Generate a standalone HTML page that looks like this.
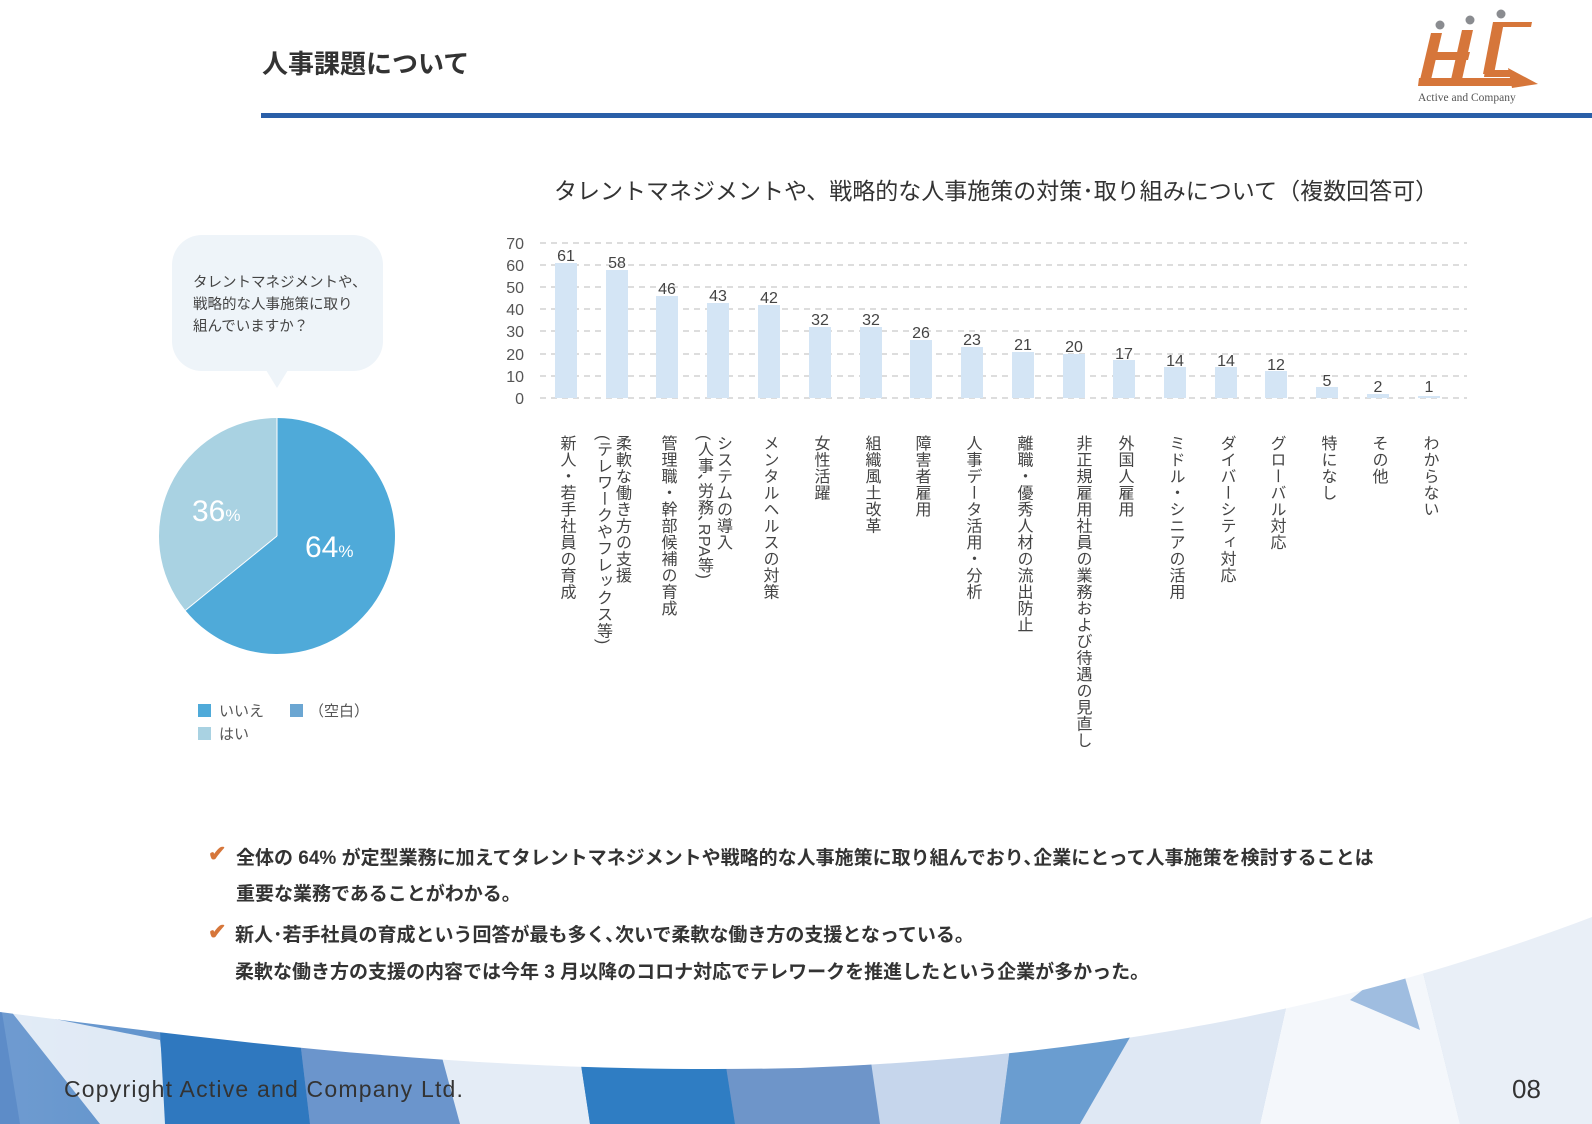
<!DOCTYPE html>
<html><head><meta charset="utf-8">
<style>
html,body{margin:0;padding:0;}
body{width:1592px;height:1124px;position:relative;overflow:hidden;background:#fff;font-family:"Liberation Sans","Noto Sans CJK JP",sans-serif;color:#333;}
.abs{position:absolute;white-space:nowrap;}
.vl{position:absolute;top:435px;writing-mode:vertical-rl;font-size:16px;letter-spacing:0.5px;line-height:19px;color:#444;transform:translateX(-50%);white-space:nowrap;}
.b{font-weight:bold;font-size:19px;color:#333;}
</style></head><body>
<svg class="abs" style="left:0;top:0" width="1592" height="1124">
  <defs>
    <linearGradient id="g1" x1="0" y1="0" x2="1" y2="0">
      <stop offset="0" stop-color="#6f9bd0"/><stop offset="0.4" stop-color="#3a80c3"/><stop offset="0.7" stop-color="#8fb0da"/><stop offset="1" stop-color="#e6edf7"/>
    </linearGradient>
  </defs>
  <rect x="0" y="900" width="1592" height="224" fill="url(#g1)"/>
  <polygon points="0,1000 20,1124 0,1124" fill="#5d8cc8"/>
  <polygon points="10,1010 160,1040 170,1124 100,1124" fill="#ffffff" opacity="0.8"/>
  <polygon points="160,1030 300,1040 310,1124 165,1124" fill="#2f78bf"/>
  <polygon points="300,1040 440,1050 460,1124 310,1124" fill="#6b95cc"/>
  <polygon points="440,1050 580,1058 590,1124 460,1124" fill="#e4ecf6"/>
  <polygon points="580,1058 725,1060 735,1124 590,1124" fill="#2f7dc3"/>
  <polygon points="725,1060 870,1055 880,1124 735,1124" fill="#6e95c9"/>
  <polygon points="870,1055 1010,1048 1000,1124 880,1124" fill="#c6d6ec"/>
  <polygon points="1010,1048 1140,1020 1080,1124 1000,1124" fill="#6a9dd0"/>
  <polygon points="1140,1020 1290,990 1260,1124 1080,1124" fill="#dfe8f4"/>
  <polygon points="1290,990 1420,960 1460,1124 1260,1124" fill="#f4f7fb"/>
  <polygon points="1420,960 1592,915 1592,1124 1460,1124" fill="#e9eff7"/>
  <polygon points="1350,1000 1400,960 1420,1030" fill="#9fbde0"/>
  <path d="M0,900 L1592,900 L1592,917 C1400,990 1150,1055 800,1068 C500,1075 250,1045 0,1012 Z" fill="#fff"/>
  <rect x="261" y="113" width="1331" height="5" fill="#2a5fa8"/>
  <!-- logo -->
  <circle cx="1440" cy="25" r="4.5" fill="#8a8c90"/>
  <circle cx="1470" cy="20" r="4.5" fill="#8a8c90"/>
  <circle cx="1501" cy="14" r="4.5" fill="#8a8c90"/>
  <g fill="#d6763a">
    <polygon points="1431,33 1442,33 1430,84 1419,84"/>
    <polygon points="1462,30 1473,30 1461,84 1450,84"/>
    <polygon points="1493,22 1504,22 1494,74 1483,74"/>
    <polygon points="1435,52 1470,52 1468,60 1433,60"/>
    <polygon points="1500,22 1532,22 1531,27 1500,27"/>
    <polygon points="1419,78 1514,78 1513,86 1418,86"/>
    <polygon points="1508,68 1538,84 1512,88"/>
    <polygon points="1485,70 1512,70 1511,77 1484,77"/>
  </g>
  <text x="1418" y="101" font-family="Liberation Serif,serif" font-size="11.5" fill="#555">Active and Company</text>
  <!-- bubble -->
  <rect x="172" y="235" width="211" height="136" rx="30" fill="#eef4f9"/>
  <polygon points="266,370 288,370 277,388" fill="#eef4f9"/>
  <!-- pie -->
  <path d="M277,536 L277,418 A118,118 0 1 1 185.4,610.4 Z" fill="#4faad9"/>
  <path d="M277,536 L185.4,610.4 A118,118 0 0 1 277,418 Z" fill="#a9d2e2"/>
  <line x1="277" y1="536" x2="277" y2="418" stroke="#fff" stroke-width="1"/>
  <line x1="277" y1="536" x2="185.4" y2="610.4" stroke="#fff" stroke-width="1"/>
  <text x="192" y="521" font-size="30" fill="#fff" font-family="Liberation Sans,sans-serif">36<tspan font-size="17">%</tspan></text>
  <text x="305" y="557" font-size="30" fill="#fff" font-family="Liberation Sans,sans-serif">64<tspan font-size="17">%</tspan></text>
  <rect x="198" y="704" width="13" height="13" fill="#4faad9"/>
  <rect x="290" y="704" width="13" height="13" fill="#6ba6d2"/>
  <rect x="198" y="727" width="13" height="13" fill="#a9d2e2"/>
  <g font-size="15" fill="#555" font-family="Liberation Sans,Noto Sans CJK JP,sans-serif">
    <text x="219" y="716">いいえ</text>
    <text x="309" y="716">（空白）</text>
    <text x="219" y="739">はい</text>
  </g>
  <!-- bar chart -->
  <g stroke="#bbb" stroke-width="1" stroke-dasharray="6,5">
    <line x1="540" y1="243" x2="1467" y2="243"/><line x1="540" y1="265" x2="1467" y2="265"/>
    <line x1="540" y1="287" x2="1467" y2="287"/><line x1="540" y1="309" x2="1467" y2="309"/>
    <line x1="540" y1="331" x2="1467" y2="331"/><line x1="540" y1="354" x2="1467" y2="354"/>
    <line x1="540" y1="376" x2="1467" y2="376"/><line x1="540" y1="398" x2="1467" y2="398"/>
  </g>
  <g font-size="16" fill="#555" text-anchor="end" font-family="Liberation Sans,sans-serif">
    <text x="524" y="249">70</text><text x="524" y="271">60</text><text x="524" y="293">50</text>
    <text x="524" y="315">40</text><text x="524" y="337">30</text><text x="524" y="360">20</text>
    <text x="524" y="382">10</text><text x="524" y="404">0</text>
  </g>
  <g fill="#d4e5f5">
    <rect x="555" y="263" width="22" height="135"/>
    <rect x="606" y="270" width="22" height="128"/>
    <rect x="656" y="296" width="22" height="102"/>
    <rect x="707" y="303" width="22" height="95"/>
    <rect x="758" y="305" width="22" height="93"/>
    <rect x="809" y="327" width="22" height="71"/>
    <rect x="860" y="327" width="22" height="71"/>
    <rect x="910" y="340" width="22" height="58"/>
    <rect x="961" y="347" width="22" height="51"/>
    <rect x="1012" y="352" width="22" height="46"/>
    <rect x="1063" y="354" width="22" height="44"/>
    <rect x="1113" y="360" width="22" height="38"/>
    <rect x="1164" y="367" width="22" height="31"/>
    <rect x="1215" y="367" width="22" height="31"/>
    <rect x="1265" y="371" width="22" height="27"/>
    <rect x="1316" y="387" width="22" height="11"/>
    <rect x="1367" y="394" width="22" height="4"/>
    <rect x="1418" y="396" width="22" height="2"/>
  </g>
  <g font-size="16" fill="#444" text-anchor="middle" font-family="Liberation Sans,sans-serif">
    <text x="566" y="261">61</text><text x="617" y="268">58</text><text x="667" y="294">46</text>
    <text x="718" y="301">43</text><text x="769" y="303">42</text><text x="820" y="325">32</text>
    <text x="871" y="325">32</text><text x="921" y="338">26</text><text x="972" y="345">23</text>
    <text x="1023" y="350">21</text><text x="1074" y="352">20</text><text x="1124" y="359">17</text>
    <text x="1175" y="366">14</text><text x="1226" y="366">14</text><text x="1276" y="370">12</text>
    <text x="1327" y="386">5</text><text x="1378" y="392">2</text><text x="1429" y="392">1</text>
  </g>
</svg>
<div class="abs" style="left:262px;top:44px;font-size:26px;font-weight:bold;color:#333;">人事課題について</div>
<div class="abs" style="left:554px;top:172px;font-size:23px;color:#333;">タレントマネジメントや、戦略的な人事施策の対策･取り組みについて（複数回答可）</div>
<div class="abs" style="left:193px;top:272px;font-size:14.5px;line-height:22px;color:#444;">タレントマネジメントや、<br>戦略的な人事施策に取り<br>組んでいますか？</div>

<div class="vl" style="left:566px">新人・若手社員の育成</div>
<div class="vl" style="left:612px">柔軟な働き方の支援<br>(テレワークやフレックス等)</div>
<div class="vl" style="left:667px">管理職・幹部候補の育成</div>
<div class="vl" style="left:713px">システムの導入<br>(人事､労務､RPA等)</div>
<div class="vl" style="left:769px">メンタルヘルスの対策</div>
<div class="vl" style="left:820px">女性活躍</div>
<div class="vl" style="left:871px">組織風土改革</div>
<div class="vl" style="left:921px">障害者雇用</div>
<div class="vl" style="left:972px">人事データ活用・分析</div>
<div class="vl" style="left:1023px">離職・優秀人材の流出防止</div>
<div class="vl" style="left:1082px">非正規雇用社員の業務および待遇の見直し</div>
<div class="vl" style="left:1124px">外国人雇用</div>
<div class="vl" style="left:1175px">ミドル・シニアの活用</div>
<div class="vl" style="left:1226px">ダイバーシティ対応</div>
<div class="vl" style="left:1276px">グローバル対応</div>
<div class="vl" style="left:1327px">特になし</div>
<div class="vl" style="left:1378px">その他</div>
<div class="vl" style="left:1429px">わからない</div>

<div class="abs" style="left:208px;top:841px;color:#d6763a;font-size:22px;font-weight:bold;">✔</div>
<div class="abs b" style="left:236px;top:843px;">全体の 64% が定型業務に加えてタレントマネジメントや戦略的な人事施策に取り組んでおり､企業にとって人事施策を検討することは</div>
<div class="abs b" style="left:236px;top:879px;">重要な業務であることがわかる。</div>
<div class="abs" style="left:208px;top:919px;color:#d6763a;font-size:22px;font-weight:bold;">✔</div>
<div class="abs b" style="left:235px;top:920px;">新人･若手社員の育成という回答が最も多く､次いで柔軟な働き方の支援となっている。</div>
<div class="abs b" style="left:235px;top:957px;">柔軟な働き方の支援の内容では今年 3 月以降のコロナ対応でテレワークを推進したという企業が多かった。</div>

<div class="abs" style="left:64px;top:1076px;font-size:23px;letter-spacing:1.2px;color:#333;">Copyright Active and Company Ltd.</div>
<div class="abs" style="left:1512px;top:1074px;font-size:26px;color:#333;">08</div>
</body></html>
